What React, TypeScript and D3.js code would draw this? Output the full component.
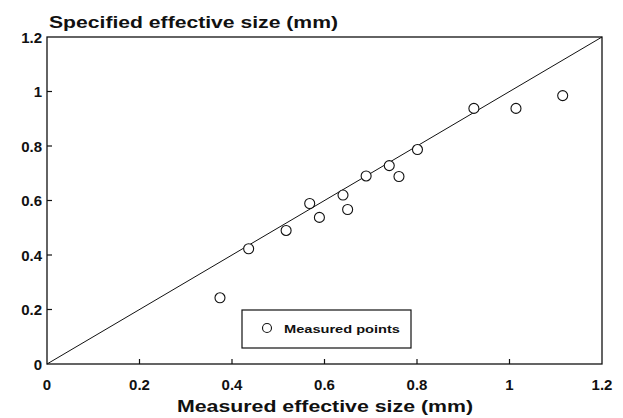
import React from "react";
import * as d3 from "d3";

// measured vs specified effective size (mm)
const measured = [0.374, 0.436, 0.517, 0.568, 0.589, 0.64, 0.65, 0.69, 0.74, 0.761, 0.801, 0.923, 1.014, 1.115];
const specified = [0.243, 0.423, 0.49, 0.589, 0.538, 0.62, 0.567, 0.69, 0.728, 0.688, 0.787, 0.938, 0.938, 0.985];
const xTicks = [0, 0.2, 0.4, 0.6, 0.8, 1, 1.2];
const yTicks = [0, 0.2, 0.4, 0.6, 0.8, 1, 1.2];
const lineEnds = [0, 1.2];

const width = 623;
const height = 418;
const font = "'Liberation Sans', Arial, Helvetica, sans-serif";

const App = () => {
    const left = 47, right = 602, top = 37, bottom = 364;

    const xScale = d3.scaleLinear().domain([0, 1.2]).range([left, right]);
    const yScale = d3.scaleLinear().domain([0, 1.2]).range([bottom, top]);

    const diag = d3.line<number>()
        .x(d => xScale(d))
        .y(d => yScale(d))(lineEnds);

    return (
        <svg width={width} height={height} style={{ position: "absolute", left: 0, top: 0, background: "#fff" }}>
            <rect x={0} y={0} width={width} height={height} fill="#fff" />
            {/* frame */}
            <rect x={left} y={top} width={right - left} height={bottom - top} fill="none" stroke="#111" strokeWidth={1.3} />

            {/* ticks, pointing inward */}
            {xTicks.slice(1, -1).map((t, i) => (
                <line key={"xt" + i} x1={xScale(t)} x2={xScale(t)} y1={bottom} y2={bottom - 5} stroke="#111" strokeWidth={1.2} />
            ))}
            {yTicks.slice(1, -1).map((t, i) => (
                <line key={"yt" + i} x1={left} x2={left + 5} y1={yScale(t)} y2={yScale(t)} stroke="#111" strokeWidth={1.2} />
            ))}

            {/* tick labels */}
            {xTicks.map((t, i) => (
                <text key={"xl" + i} x={xScale(t)} y={390} textAnchor="middle" fontFamily={font} fontWeight="bold" fontSize={15} fill="#111">
                    {String(t)}
                </text>
            ))}
            {yTicks.map((t, i) => (
                <text key={"yl" + i} x={42} y={yScale(t) + 5.5} textAnchor="end" fontFamily={font} fontWeight="bold" fontSize={15} fill="#111">
                    {String(t)}
                </text>
            ))}

            {/* 1:1 line */}
            <path d={diag ?? ""} fill="none" stroke="#111" strokeWidth={1} />

            {/* points */}
            {measured.map((m, i) => (
                <circle key={i} cx={xScale(m)} cy={yScale(specified[i])} r={5} fill="#fff" stroke="#111" strokeWidth={1.1} />
            ))}

            {/* legend */}
            <rect x={242} y={310} width={169} height={38} fill="#fff" stroke="#111" strokeWidth={1.2} />
            <circle cx={267} cy={328} r={4.5} fill="#fff" stroke="#111" strokeWidth={1.1} />
            <text x={284} y={333} fontFamily={font} fontWeight="bold" fontSize={11.5} fill="#111" textLength={116} lengthAdjust="spacingAndGlyphs">
                Measured points
            </text>

            {/* axis titles */}
            <text x={49} y={28} fontFamily={font} fontWeight="bold" fontSize={17} fill="#111" textLength={289} lengthAdjust="spacingAndGlyphs">
                Specified effective size (mm)
            </text>
            <text x={177} y={412} fontFamily={font} fontWeight="bold" fontSize={17} fill="#111" textLength={296} lengthAdjust="spacingAndGlyphs">
                Measured effective size (mm)
            </text>
        </svg>
    );
};

export default App;
